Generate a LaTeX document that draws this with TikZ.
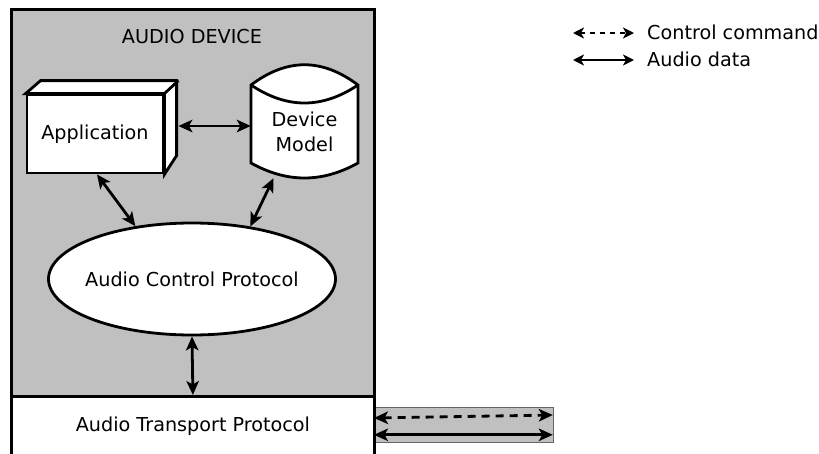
\documentclass[tikz,border=0pt]{standalone}
\usepackage{fontspec}
\setmainfont{DejaVu Sans}
\usetikzlibrary{arrows.meta,shapes.geometric}
\definecolor{devgray}{RGB}{192,192,192}
\begin{document}
\begin{tikzpicture}[x=1pt,y=-1pt,
  every node/.style={font=\fontsize{19.2}{25}\selectfont, inner sep=0pt},
  box/.style={draw=black, line width=2.8pt},
  link/.style={line width=2.8pt, {Stealth[length=14pt,width=12.5pt,inset=3.5pt]}-{Stealth[length=14pt,width=12.5pt,inset=3.5pt]}},
  ctrl/.style={link, dash pattern=on 8pt off 6pt},
  keylink/.style={line width=2.6pt, {Stealth[length=11pt,width=11pt,inset=3pt]}-{Stealth[length=11pt,width=11pt,inset=3pt]}},
]
\useasboundingbox (0,0) rectangle (819,453);

% device enclosure and its title
\node[box, fill=devgray, minimum width=363pt, minimum height=387pt, anchor=north west] (dev) at (10,8) {};
\node (title) at (192,37) {AUDIO DEVICE};

% transport channel strip
\node[draw=black!60, line width=0.8pt, fill=devgray, minimum width=180pt, minimum height=35pt, anchor=north west] (strip) at (373,407) {};

% transport layer
\node[box, fill=white, minimum width=363pt, minimum height=60pt, anchor=north west] (atp) at (10,395) {Audio Transport Protocol};

% application block (drawn as a 3D box)
\node[box, fill=white, minimum width=136pt, minimum height=78pt] (app) at (95,134) {Application};
\draw[box, fill=white, line join=miter] (app.north west) -- ++(15,-13) -- ++(136,0) -- ++(0,75) -- (app.south east) -- (app.north east) -- cycle;
\draw[box] (app.north east) -- ++(14,-13);

% device model store
\draw[box, fill=white] (251,85) -- (251,163) .. controls (287,183) and (322,183) .. (358,163) -- (358,85) .. controls (322,58) and (287,58) .. cycle;
\draw[box] (251,85) .. controls (287,109) and (322,109) .. (358,85);
\node[minimum width=107pt, minimum height=92pt, align=center] (dm) at (304.5,132) {Device\\Model};

% control protocol
\node[box, ellipse, fill=white, minimum width=287pt, minimum height=112pt] (acp) at (192,279) {};
\node (acptext) at (acp.center) {Audio Control Protocol};

% links
\draw[link] ([xshift=14pt,yshift=8pt]app.east) -- ([yshift=6pt]dm.west);
\draw[link] ([xshift=2pt]app.south) -- (acp.137);
\draw[link] ([xshift=-31pt]dm.south) -- (acp.42);
\draw[link] (acp.south) -- (atp.north);

% channel arrows
\draw[ctrl] ([xshift=1pt,yshift=-11pt]strip.north west) -- ([xshift=-1pt,yshift=-8pt]strip.north east);
\draw[link] ([xshift=1pt,yshift=8pt]strip.south west) -- ([xshift=-1pt,yshift=8pt]strip.south east);

% key
\coordinate (k1a) at (573,33);
\coordinate (k1b) at (634,33);
\coordinate (k2a) at (573,60);
\coordinate (k2b) at (634,60);
\draw[keylink, dash pattern=on 5pt off 5pt] (k1a) -- (k1b);
\draw[keylink] (k2a) -- (k2b);
\node[anchor=west] (kctl) at (647,32) {Control command};
\node[anchor=west] (kaud) at (647,59) {Audio data};
\end{tikzpicture}
\end{document}
